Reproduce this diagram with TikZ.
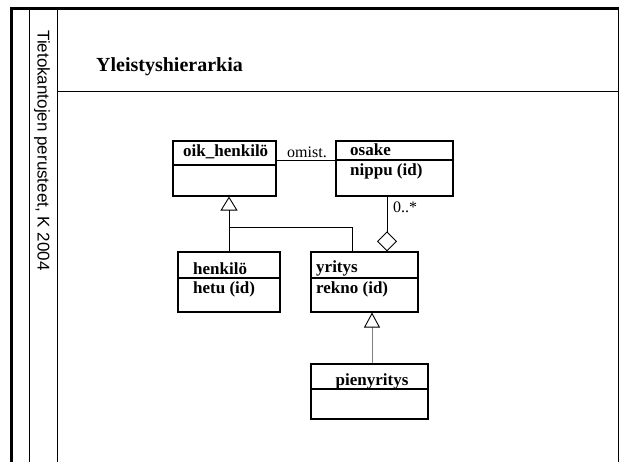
\documentclass[tikz,border=0pt]{standalone}
\usepackage{fontspec}
\setmainfont{Liberation Serif}
\setsansfont{Liberation Sans}
\usetikzlibrary{arrows.meta}
\begin{document}
\begin{tikzpicture}[x=1pt,y=-1pt,
  frame/.style={line width=0.9pt},
  heavy/.style={line width=2.8pt},
  umlbox/.style={draw, line width=1.1pt, inner sep=0pt, rectangle},
  label/.style={font=\fontsize{17}{20}\selectfont\bfseries, inner sep=0pt, anchor=west},
  plain/.style={font=\fontsize{16}{19}\selectfont, inner sep=0pt},
  conn/.style={line width=0.9pt},
  gentip/.style={-{Triangle[open,length=14pt,width=17pt,line width=0.9pt]}},
  aggtip/.style={{Diamond[open,length=20pt,width=20pt,line width=0.9pt]}-}]
\useasboundingbox (0,0) rectangle (620,462);

% slide frame
\draw[heavy] (11.5,462) -- (11.5,8.5) -- (619,8.5);
\draw[frame] (29.3,10) -- (29.3,462);
\draw[frame] (57.3,10) -- (57.3,462);
\draw[frame] (618.5,10) -- (618.5,462);
\draw[frame] (57.3,91.7) -- (618.5,91.7);

% side caption and title
\node[rotate=-90, font=\sffamily\fontsize{17}{20}\selectfont, inner sep=0pt] (side) at (42,150.5) {Tietokantojen perusteet, K 2004};
\node[font=\fontsize{20}{24}\selectfont\bfseries, inner sep=0pt, anchor=west] (title) at (96,67) {Yleistyshierarkia};

% classes
\node[umlbox, minimum width=103, minimum height=55] (oik) at (224.5,168.5) {};
\node[umlbox, minimum width=117, minimum height=55] (osake) at (394.5,168.5) {};
\node[umlbox, minimum width=102, minimum height=60] (henk) at (229,282) {};
\node[umlbox, minimum width=107, minimum height=60] (yrit) at (364.5,282) {};
\node[umlbox, minimum width=117, minimum height=55] (pieni) at (369.5,391.5) {};

% compartment dividers
\draw[line width=1.1pt] (oik.west |- 0,165) -- (oik.east |- 0,165);
\draw[line width=1.1pt] (osake.west |- 0,160) -- (osake.east |- 0,160);
\draw[line width=1.1pt] (henk.west |- 0,278) -- (henk.east |- 0,278);
\draw[line width=1.1pt] (yrit.west |- 0,278) -- (yrit.east |- 0,278);
\draw[line width=1.1pt] (pieni.west |- 0,389) -- (pieni.east |- 0,389);

% class texts
\node[label] (toik) at (183,152) {oik\_henkilö};
\node[label] (tosake) at (350,150) {osake};
\node[label] (tnippu) at (350,171) {nippu (id)};
\node[label] (thenk) at (193,269) {henkilö};
\node[label] (thetu) at (193,289) {hetu (id)};
\node[label] (tyrit) at (316,268) {yritys};
\node[label] (trekno) at (316,289) {rekno (id)};
\node[label, anchor=center] (tpieni) at (372,381) {pienyritys};

% association
\draw[conn] (oik.east |- 0,160) -- (osake.west |- 0,160);
\node[plain] (omist) at (307,152) {omist.};

% generalisation oik_henkilö <- henkilö, yritys
\coordinate (branch) at (229,227);
\draw[conn, gentip] (henk.north) -- (henk.north |- oik.south);
\draw[conn] (yrit.north -| 352,0) |- (branch);

% generalisation yritys <- pienyritys
\draw[conn, draw=gray, -{Triangle[open,length=15pt,width=16pt,line width=0.9pt,color=black]}] (pieni.north -| 372,0) -- (yrit.south -| 372,0);

% aggregation osake -> yritys
\draw[conn, aggtip] (yrit.north -| 387,0) -- (osake.south -| 387,0);
\node[plain, anchor=west] (mult) at (393,207) {0..*};
\end{tikzpicture}
\end{document}
